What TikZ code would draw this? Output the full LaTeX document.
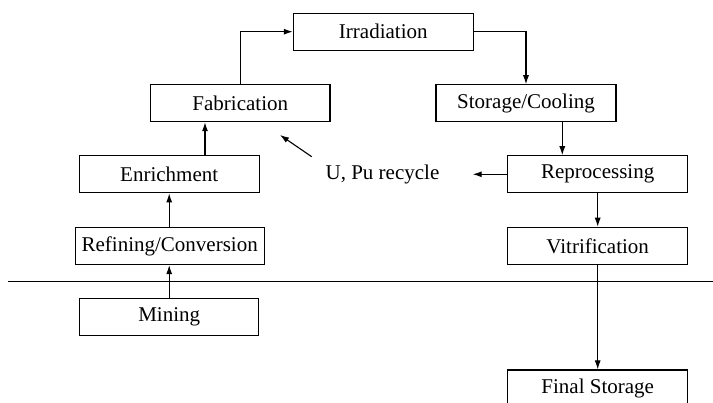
\documentclass[tikz,border=0pt]{standalone}
\usepackage{fontspec}
\setmainfont{Liberation Serif}
\usetikzlibrary{arrows.meta,calc}
\begin{document}
\begin{tikzpicture}[x=1pt,y=-1pt,
  box/.style={draw,line width=1.1pt,rectangle,inner sep=0pt,minimum height=37pt,font=\fontsize{21}{25}\selectfont},
  arr/.style={line width=1.1pt,-{Latex[length=9pt,width=6pt]}},
  plain/.style={line width=1.1pt}]
\useasboundingbox[fill=white] (0,0) rectangle (713,403);
\clip (0,0) rectangle (713,403);
\node[box,minimum width=180pt] (irr) at (383.3,31.7) {Irradiation};
\node[box,minimum width=179.3pt] (fab) at (240.3,103.2) {Fabrication};
\node[box,minimum width=180pt] (stor) at (526,103.3) {Storage/Cooling};
\node[box,minimum width=180.3pt] (enr) at (169.2,174.3) {Enrichment};
\node[box,minimum width=180pt] (rep) at (597.7,174.3) {Reprocessing};
\node[box,minimum width=189.3pt] (ref) at (169.7,246) {Refining/Conversion};
\node[box,minimum width=180pt] (vit) at (597.7,245.8) {Vitrification};
\node[box,minimum width=179.3pt] (mine) at (169.2,317.3) {Mining};
\node[box,minimum width=180.4pt] (fin) at (597.7,388.5) {Final Storage};
\node[font=\fontsize{21}{25}\selectfont,inner sep=0pt] (rec) at (382.5,174.3) {U, Pu recycle};
\coordinate (lineL) at (8.3,281.7);
\coordinate (lineR) at (713,281.7);
\coordinate (rt) at (472.7,174.3);
\coordinate (ua) at (311.7,156.7);
\coordinate (ub) at (280,135);
\draw[plain] (lineL) -- (lineR);
\draw[arr] (fab.north) |- (irr.west);
\draw[arr] (irr.east) -| (stor.north);
\draw[arr] ([xshift=36.3pt]stor.south) -- ([xshift=36.3pt]stor.south |- rep.north);
\draw[arr] (rep.west) -- (rt);
\draw[arr] (ua) -- (ub);
\draw[arr] ([xshift=35.8pt]enr.north) -- ([xshift=35.8pt]enr.north |- fab.south);
\draw[arr] (ref.north -| enr.south) -- (enr.south);
\draw[arr] (mine.north) -- (mine.north |- ref.south);
\draw[arr] (rep.south) -- (vit.north);
\draw[arr] (vit.south) -- (fin.north);
\end{tikzpicture}
\end{document}
